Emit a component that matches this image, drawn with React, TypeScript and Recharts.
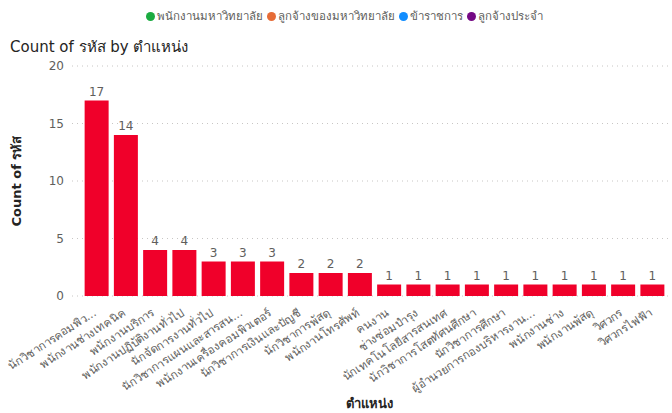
import React from 'react';
import {
  BarChart,
  Bar,
  XAxis,
  YAxis,
  CartesianGrid,
  LabelList,
} from 'recharts';

// positions (ตำแหน่ง) and counts
const positions = [
  'นักวิชาการคอมพิว...',
  'พนักงานช่างเทคนิค',
  'พนักงานบริการ',
  'พนักงานปฏิบัติงานทั่วไป',
  'นักจัดการงานทั่วไป',
  'นักวิชาการแผนและสารสน...',
  'พนักงานเครื่องคอมพิวเตอร์',
  'นักวิชาการเงินและบัญชี',
  'นักวิชาการพัสดุ',
  'พนักงานโทรศัพท์',
  'คนงาน',
  'ช่างซ่อมบำรุง',
  'นักเทคโนโลยีสารสนเทศ',
  'นักวิชาการโสตทัศนศึกษา',
  'นักวิชาการศึกษา',
  'ผู้อำนวยการกองบริหารงาน...',
  'พนักงานช่าง',
  'พนักงานพัสดุ',
  'วิศวกร',
  'วิศวกรไฟฟ้า',
];
const counts = [17, 14, 4, 4, 3, 3, 3, 2, 2, 2, 1, 1, 1, 1, 1, 1, 1, 1, 1, 1];
const yTicks = [0, 5, 10, 15, 20];

const legendNames = ['พนักงานมหาวิทยาลัย', 'ลูกจ้างของมหาวิทยาลัย', 'ข้าราชการ', 'ลูกจ้างประจำ'];
const legendColors = ['#1AAB40', '#E66C37', '#118DFF', '#750985'];

const FONT = '"Segoe UI", "DejaVu Sans", sans-serif';
const BAR_COLOR = '#F0002A';

const data = positions.map((name, i) => ({ name, value: counts[i] }));

const RotatedTick = (props: any) => {
  const { x, y, payload } = props;
  return (
    <g transform={`translate(${x - 4},${y + 4})`}>
      <text
        x={0}
        y={0}
        dy={8}
        textAnchor="end"
        transform="rotate(-33)"
        fill="#605E5C"
        fontSize={11.5}
        fontFamily={FONT}
      >
        {payload.value}
      </text>
    </g>
  );
};

export default function App() {
  return (
    <div
      style={{
        position: 'absolute',
        left: 0,
        top: 0,
        width: 672,
        height: 413,
        background: '#fff',
        fontFamily: FONT,
      }}
    >
      {/* legend */}
      <div
        style={{
          position: 'absolute',
          top: 7,
          left: 0,
          width: 692,
          display: 'flex',
          justifyContent: 'center',
          fontSize: 11.5,
          color: '#605E5C',
        }}
      >
        {legendNames.map((n, i) => (
          <span key={n} style={{ display: 'flex', alignItems: 'center', marginRight: 4 }}>
            <span
              style={{
                width: 9,
                height: 9,
                borderRadius: '50%',
                background: legendColors[i],
                display: 'inline-block',
                marginRight: 2,
              }}
            />
            {n}
          </span>
        ))}
      </div>
      <div
        style={{
          position: 'absolute',
          top: 35,
          left: 10,
          fontSize: 15,
          color: '#252423',
        }}
      >
        Count of รหัส by ตำแหน่ง
      </div>
      <div
        style={{
          position: 'absolute',
          top: 393,
          left: 346,
          fontSize: 13,
          fontWeight: 600,
          color: '#252423',
        }}
      >
        ตำแหน่ง
      </div>
      <BarChart
        width={672}
        height={413}
        data={data}
        margin={{ top: 66, right: 2, bottom: 2, left: 10 }}
        barCategoryGap="9%"
      >
        <CartesianGrid
          vertical={false}
          strokeDasharray="1 4"
          stroke="#C8C6C4"
        />
        <XAxis
          dataKey="name"
          interval={0}
          tick={<RotatedTick />}
          tickLine={false}
          axisLine={false}
          height={115}
          padding={{ left: 10, right: 3 }}
        />
        <YAxis
          domain={[0, 20]}
          ticks={yTicks}
          tickLine={false}
          axisLine={false}
          tickSize={0}
          tickMargin={8}
          width={62}
          tick={{ fill: '#605E5C', fontSize: 12, fontFamily: FONT }}
          label={{
            value: 'Count of รหัส',
            angle: -90,
            position: 'insideLeft',
            offset: 6,
            style: { textAnchor: 'middle', fontWeight: 600 },
            fill: '#252423',
            fontSize: 13,
            fontFamily: FONT,
          }}
        />
        <Bar dataKey="value" fill={BAR_COLOR} isAnimationActive={false}>
          <LabelList
            dataKey="value"
            position="top"
            fill="#605E5C"
            fontSize={12}
            fontFamily={FONT}
          />
        </Bar>
      </BarChart>
    </div>
  );
}
